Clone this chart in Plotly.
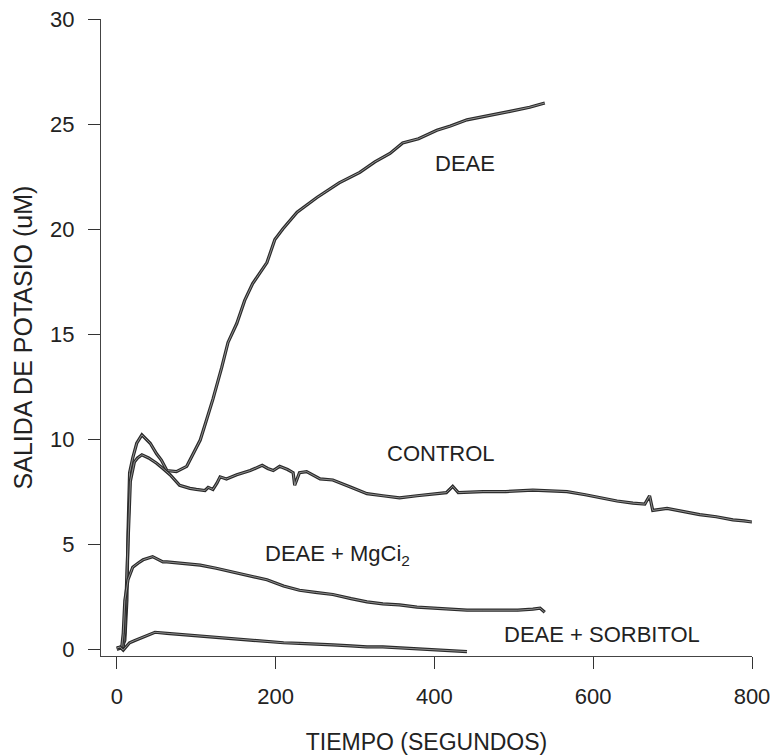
import plotly.graph_objects as go

# ---- data ----
deae_t = [0, 6, 10, 12.6, 14, 16, 20, 25, 31.5, 42, 50, 56, 63, 75, 88, 96, 105, 112, 121, 132, 140, 151,
          161, 171, 189, 199, 209, 227, 252, 280, 306, 325, 344, 360, 380, 403, 420, 441, 470, 495, 520, 539]
deae_v = [0.05, 0.1, 0.4, 2.3, 5.5, 8.4, 9.1, 9.8, 10.2, 9.8, 9.3, 9.0, 8.5, 8.45, 8.7, 9.3, 9.95, 10.8,
          11.9, 13.4, 14.6, 15.5, 16.6, 17.4, 18.4, 19.5, 20.0, 20.8, 21.5, 22.2, 22.7, 23.2, 23.6, 24.1,
          24.3, 24.7, 24.9, 25.2, 25.4, 25.6, 25.8, 26.0]

control_t = [0, 8, 10, 12, 14, 17, 22, 26, 31.5, 40, 50, 58, 67, 79, 92, 100, 111, 115, 121, 126, 130, 138,
             151, 168, 183, 190, 197, 205, 215, 222, 224, 230, 239, 256, 272, 295, 315, 335, 356, 378, 398,
             415, 423, 430, 461, 490, 524, 545, 567, 590, 608, 630, 650, 665, 671, 675, 693, 715, 734, 755,
             776, 790, 800]
control_v = [0, 0.1, 0.8, 2.5, 5.0, 8.0, 8.9, 9.1, 9.25, 9.1, 8.85, 8.6, 8.3, 7.8, 7.65, 7.6, 7.55, 7.7, 7.6,
             7.9, 8.2, 8.1, 8.3, 8.5, 8.75, 8.6, 8.5, 8.7, 8.55, 8.4, 7.8, 8.4, 8.45, 8.1, 8.05, 7.7, 7.4,
             7.3, 7.2, 7.3, 7.4, 7.45, 7.75, 7.45, 7.5, 7.5, 7.57, 7.55, 7.5, 7.35, 7.2, 7.05, 6.95, 6.9,
             7.3, 6.6, 6.7, 6.55, 6.4, 6.3, 6.15, 6.1, 6.05]

mg_t = [0, 6, 8, 10, 14, 20, 27, 33, 45, 58, 63, 80, 105, 125, 146, 168, 189, 210, 230, 250, 272, 295, 315,
        335, 356, 378, 398, 420, 441, 460, 482, 505, 524, 533, 539]
mg_v = [0, 0.05, 0.75, 2.3, 3.3, 3.9, 4.1, 4.25, 4.4, 4.15, 4.15, 4.1, 4.0, 3.85, 3.67, 3.5, 3.3, 3.0, 2.8,
        2.7, 2.6, 2.4, 2.25, 2.15, 2.1, 2.0, 1.95, 1.9, 1.85, 1.85, 1.85, 1.85, 1.9, 1.95, 1.75]

sorb_t = [0, 4, 8, 12, 16, 22, 29, 38, 48, 63, 80, 105, 125, 146, 168, 189, 210, 230, 250, 272, 295, 315,
          335, 356, 378, 398, 420, 441]
sorb_v = [0.05, 0.1, -0.05, 0.1, 0.3, 0.4, 0.5, 0.65, 0.8, 0.75, 0.7, 0.6, 0.55, 0.5, 0.42, 0.35, 0.3, 0.27,
          0.25, 0.2, 0.15, 0.1, 0.1, 0.05, 0.02, -0.05, -0.08, -0.12]

series = [(deae_t, deae_v), (control_t, control_v), (mg_t, mg_v), (sorb_t, sorb_v)]

labels = ["DEAE", "CONTROL", "DEAE + MgCi<sub>2</sub>", "DEAE + SORBITOL"]
label_t = [438, 408, 278, 611]
label_v = [23.1, 9.3, 4.5, 0.71]

x_ticks = [0, 200, 400, 600, 800]
y_ticks = [0, 5, 10, 15, 20, 25, 30]

FONT = "Liberation Sans, Arial, sans-serif"

fig = go.Figure()
for t, v in series:
    fig.add_trace(go.Scatter(x=t, y=v, mode="lines",
                             line=dict(color="#2a2a2a", width=3.2), hoverinfo="skip"))
    fig.add_trace(go.Scatter(x=t, y=v, mode="lines",
                             line=dict(color="#a8a8a8", width=0.8), hoverinfo="skip"))

for txt, tx, ty in zip(labels, label_t, label_v):
    fig.add_annotation(x=tx, y=ty, text=txt, showarrow=False,
                       font=dict(family=FONT, size=22, color="#222"))

fig.update_layout(
    width=776, height=755,
    margin=dict(l=101, r=24, t=19, b=99),
    paper_bgcolor="white", plot_bgcolor="white",
    showlegend=False,
    font=dict(family=FONT, size=22, color="#222"),
)
fig.update_xaxes(
    range=[-20, 800], tickvals=x_ticks, ticks="outside", ticklen=12, tickwidth=1.2,
    tickcolor="#333", showline=True, linecolor="#444", linewidth=1.3, showgrid=False,
    zeroline=False, tickfont=dict(size=22), ticklabelstandoff=8,
    title=dict(text="TIEMPO (SEGUNDOS)", font=dict(size=23), standoff=26),
    automargin=False,
)
fig.update_yaxes(
    range=[-0.33, 30], tickvals=y_ticks, ticks="outside", ticklen=12, tickwidth=1.2,
    tickcolor="#333", showline=True, linecolor="#444", linewidth=1.3, showgrid=False,
    zeroline=False, tickfont=dict(size=22), ticklabelstandoff=9,
    title=dict(text="SALIDA DE POTASIO (uM)", font=dict(size=25), standoff=10),
    automargin=False,
)

fig.write_html("out.html")
